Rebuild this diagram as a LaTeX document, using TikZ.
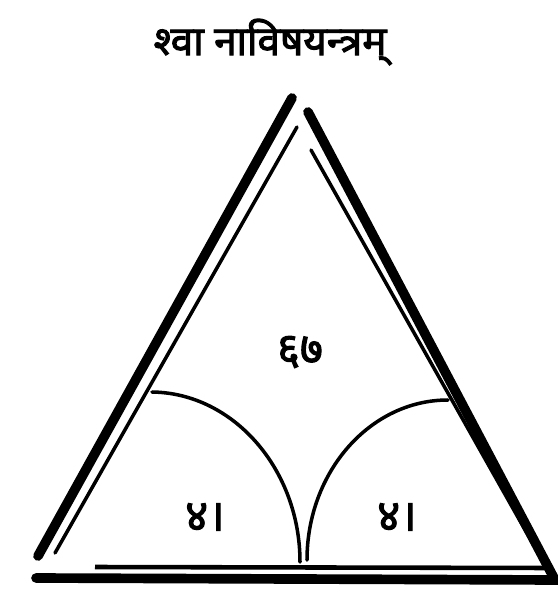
\documentclass[tikz,border=0pt]{standalone}
\usepackage{fontspec}
\newfontfamily\devfont[Script=Devanagari,FakeBold=2.5]{Noto Sans}
\usetikzlibrary{positioning}

\begin{document}
\begin{tikzpicture}[x=0.02cm,y=-0.02cm]
\useasboundingbox (0,0) rectangle (558,592);
\tikzset{
  thick side/.style={line width=5.5pt, line cap=round},
  thin side/.style={line width=2pt, line cap=round},
  arc line/.style={line width=2pt, line cap=round},
  num/.style={font=\devfont\fontsize{25}{25}\selectfont}
}
% title
\node at (270,42) (title) {\devfont\fontsize{23}{23}\selectfont श्वा नाविषयन्त्रम्};
% corners of the triangle
\coordinate (topL) at (292,98);
\coordinate (botL) at (38,556);
\coordinate (topR) at (308,112);
\coordinate (botR) at (555,580);
\coordinate (itopL) at (297,127);
\coordinate (ibotL) at (55,553);
\coordinate (itopR) at (311,150);
\coordinate (ibotR) at (546,567);
% sides
\draw[thick side] (topL) -- (botL);
\draw[thin side] (itopL) -- (ibotL);
\draw[thick side] (topR) -- (botR);
\draw[thin side] (itopR) -- (ibotR);
% base
\coordinate (b1) at (95,567);
\coordinate (b2) at (553,568);
\coordinate (b3) at (36,578);
\coordinate (b4) at (558,580);
\draw[line width=2.6pt] (b1) -- (b2);
\draw[line width=5.5pt, line cap=round] (b3) -- (b4);
% the two arcs
\coordinate (la) at (152,392);
\coordinate (lb) at (300,562);
\coordinate (ra) at (448,400);
\coordinate (rb) at (307,560);
\draw[arc line] (la) .. controls (234,393) and (300,470) .. (lb);
\draw[arc line] (rb) .. controls (307,472) and (370,400) .. (ra);
% numbers
\node[num] at (300,352) (top) {६७};
\node[num] at (205,517) (left) {४।};
\node[num] at (397,517) (right) {४।};
\end{tikzpicture}
\end{document}
